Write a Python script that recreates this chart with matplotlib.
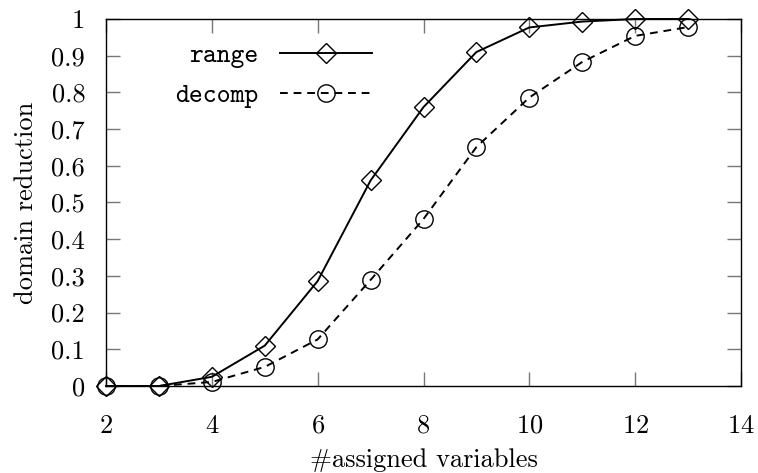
import matplotlib
matplotlib.use('Agg')
import matplotlib.pyplot as plt

# data
n_assigned = [2, 3, 4, 5, 6, 7, 8, 9, 10, 11, 12, 13]
range_red = [0.0, 0.0, 0.025, 0.11, 0.286, 0.56, 0.76, 0.91, 0.977, 0.993, 1.0, 1.0]
decomp_red = [0.0, 0.0, 0.011, 0.052, 0.127, 0.289, 0.455, 0.651, 0.786, 0.883, 0.954, 0.978]

x_ticks = [2, 4, 6, 8, 10, 12, 14]
y_ticks = [0, 0.1, 0.2, 0.3, 0.4, 0.5, 0.6, 0.7, 0.8, 0.9, 1]
y_ticklabels = ['0', '0.1', '0.2', '0.3', '0.4', '0.5', '0.6', '0.7', '0.8', '0.9', '1']

plt.rcParams['font.family'] = 'cmr10'
plt.rcParams['axes.formatter.use_mathtext'] = True

fig = plt.figure(figsize=(7.58, 4.73), dpi=100)
ax = fig.add_axes([106/758, 1-386/473, 635/758, 367/473])

ax.plot(n_assigned, range_red, color='black', lw=1.4, marker='D', ms=10,
        mfc='none', mec='black', mew=1.0, clip_on=False, label='range', zorder=3)
ax.plot(n_assigned, decomp_red, color='black', lw=1.4, ls=(0, (4, 3)), marker='o', ms=12.5,
        mfc='none', mec='black', mew=1.0, clip_on=False, label='decomp', zorder=3)

ax.set_xlim(2, 14)
ax.set_ylim(0, 1)
ax.set_xticks(x_ticks)
ax.set_yticks(y_ticks)
ax.set_yticklabels(y_ticklabels)

for sp in ax.spines.values():
    sp.set_linewidth(1.0)
ax.tick_params(which='major', direction='in', length=10, width=1.0, color='#777777',
               top=True, right=True, labelsize=19)
ax.tick_params(axis='x', pad=20)
ax.tick_params(axis='y', pad=15)

ax.set_xlabel('#assigned variables', fontsize=19, labelpad=8)
ax.set_ylabel('domain reduction', fontsize=19, labelpad=10)

leg = ax.legend(loc='center right', bbox_to_anchor=(0.419, 0.845), markerfirst=False,
                frameon=False, borderaxespad=0, borderpad=0, handlelength=3.5,
                handletextpad=0.8, labelspacing=0.6,
                prop={'family': 'cmtt10', 'size': 19})

fig.savefig('out.png', dpi=100)
